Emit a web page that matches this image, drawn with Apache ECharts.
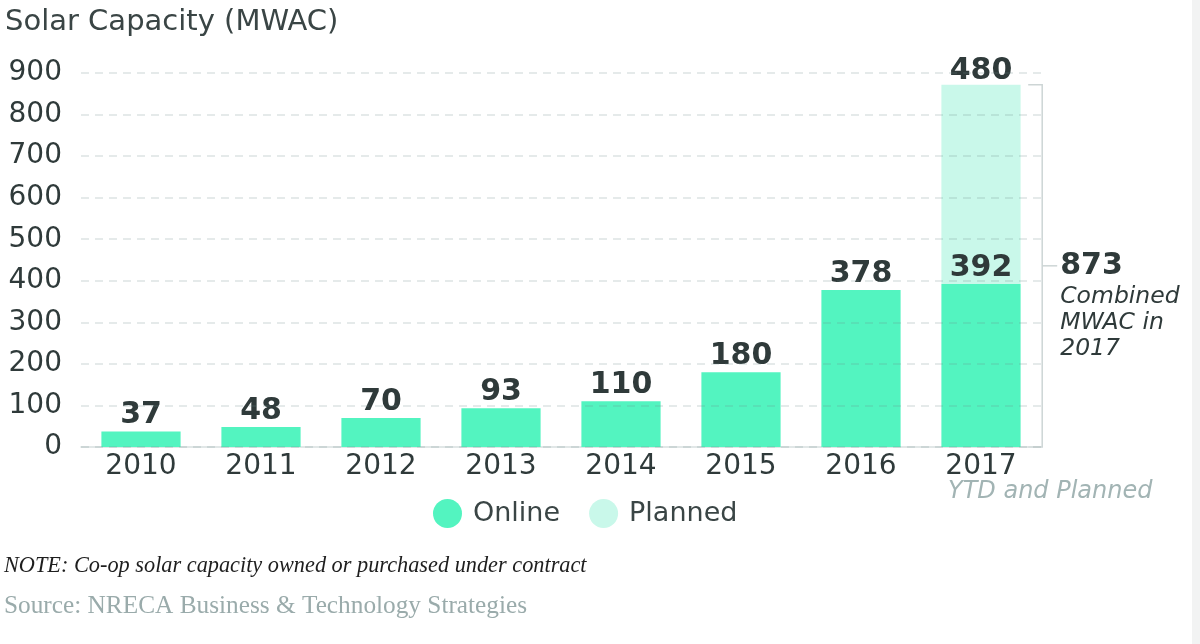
<!DOCTYPE html>
<html>
<head>
<meta charset="utf-8">
<script src="https://cdn.jsdelivr.net/npm/echarts@6/dist/echarts.min.js"></script>
<style>
  html, body { margin: 0; padding: 0; background: #fff; }
  #chart { width: 1200px; height: 644px; }
</style>
</head>
<body>
<div id="chart"></div>
<script>
// data
const years = ['2010', '2011', '2012', '2013', '2014', '2015', '2016', '2017'];
const online = [37, 48, 70, 93, 110, 180, 378, 392];
const planned = ['-', '-', '-', '-', '-', '-', '-', 480];
const combined2017 = 873;

const ONLINE = '#53f4c0';
const PLANNED = '#c9f8ea';
const DARK = '#2f3a3a';
const NUM_FONT = 'DejaVu Sans';

const chart = echarts.init(document.getElementById('chart'), null, { renderer: 'canvas' });

chart.setOption({
    animation: false,
    backgroundColor: '#fff',
    title: {
        text: 'Solar Capacity (MWAC)',
        left: 0,
        top: 3,
        textStyle: { fontFamily: NUM_FONT, fontSize: 29, fontWeight: 'normal', color: '#3a4545' }
    },
    legend: {
        data: ['Online', 'Planned'],
        icon: 'circle',
        itemWidth: 29,
        itemHeight: 29,
        itemGap: 29,
        left: 428,
        top: 494,
        textStyle: { fontFamily: NUM_FONT, fontSize: 27, color: '#3a4545', padding: [0, 0, 0, 6] }
    },
    grid: { left: 81, right: 159, top: 73, bottom: 197 },
    xAxis: {
        type: 'category',
        data: years,
        axisTick: { show: false },
        axisLine: { lineStyle: { color: '#d8dfdf', width: 1.5 } },
        axisLabel: { fontFamily: NUM_FONT, fontSize: 28, color: DARK, margin: 6 }
    },
    yAxis: {
        type: 'value',
        min: 0,
        max: 900,
        interval: 100,
        z: 5,
        axisLabel: { fontFamily: NUM_FONT, fontSize: 28, color: DARK, margin: 19 },
        splitLine: { lineStyle: { color: 'rgba(110,140,140,0.24)', type: [8, 6], width: 1.5 } }
    },
    series: [
        {
            name: 'Online',
            type: 'bar',
            stack: 'cap',
            barWidth: '66%',
            data: online,
            itemStyle: { color: ONLINE },
            label: {
                show: true, position: 'top', distance: 1,
                fontFamily: NUM_FONT, fontSize: 30, fontWeight: 'bold', color: DARK
            }
        },
        {
            name: 'Planned',
            type: 'bar',
            stack: 'cap',
            barWidth: '66%',
            data: planned,
            itemStyle: { color: PLANNED },
            label: {
                show: true, position: 'top', distance: -2,
                fontFamily: NUM_FONT, fontSize: 30, fontWeight: 'bold', color: DARK
            }
        }
    ]
});

// bracket beside the 2017 bar, placed from the axis scales
const last = years.length - 1;
const topPt = chart.convertToPixel({ gridIndex: 0 }, [last, online[last] + planned[last]]);
const basePt = chart.convertToPixel({ gridIndex: 0 }, [last, 0]);
const band = chart.convertToPixel({ gridIndex: 0 }, [1, 0])[0] - chart.convertToPixel({ gridIndex: 0 }, [0, 0])[0];
const bx = topPt[0] + band * 0.51;
const midY = (topPt[1] + basePt[1]) / 2;
const lineStyle = { stroke: '#cdd5d5', lineWidth: 1.5 };

chart.setOption({
    graphic: [
        { type: 'rect', shape: { x: 1192, y: 0, width: 8, height: 644 }, style: { fill: '#f2f3f3' }, silent: true },
        { type: 'polyline', shape: { points: [[bx - 14, topPt[1]], [bx, topPt[1]], [bx, basePt[1]], [bx - 14, basePt[1]]] }, style: Object.assign({ fill: null }, lineStyle) },
        { type: 'line', shape: { x1: bx, y1: midY, x2: bx + 15, y2: midY }, style: lineStyle },
        { type: 'text', x: bx + 18, y: midY, style: { text: String(combined2017), font: 'bold 30px "DejaVu Sans"', fill: DARK, verticalAlign: 'middle' } },
        { type: 'text', x: bx + 18, y: midY + 18, style: { text: 'Combined\nMWAC in\n2017', font: 'italic 23.5px "DejaVu Sans"', lineHeight: 26, fill: DARK } },
        { type: 'text', x: 948, y: 492, style: { text: 'YTD and Planned', font: 'italic 24px "DejaVu Sans"', fill: '#a2b4b4', verticalAlign: 'middle' } },
        { type: 'text', x: 4, y: 566, style: { text: 'NOTE: Co-op solar capacity owned or purchased under contract', font: 'italic 22.3px "Liberation Serif"', fill: '#1e1e1e', verticalAlign: 'middle' } },
        { type: 'text', x: 4, y: 606, style: { text: 'Source: NRECA Business & Technology Strategies', font: '25.3px "Liberation Serif"', fill: '#9aabab', verticalAlign: 'middle' } }
    ]
});
</script>
</body>
</html>
